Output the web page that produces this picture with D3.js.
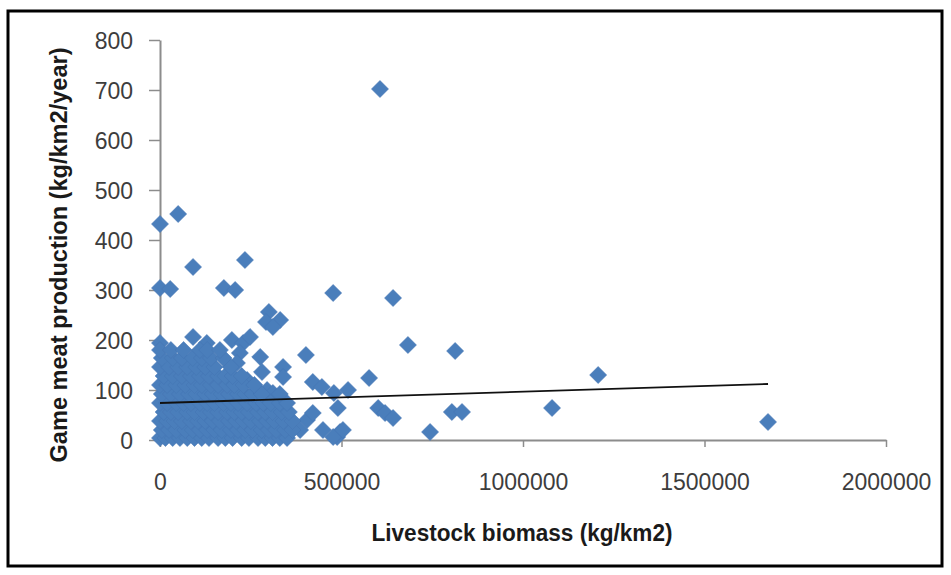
<!DOCTYPE html>
<html>
<head>
<meta charset="utf-8">
<script src="https://cdn.jsdelivr.net/npm/d3@7"></script>
<style>
  html, body { margin: 0; padding: 0; background: #ffffff; }
  svg { display: block; }
</style>
</head>
<body>
<svg id="chart" width="951" height="575"></svg>
<script>
// ---- data ----
const xTickValues = [0, 500000, 1000000, 1500000, 2000000];
const yTickValues = [0, 100, 200, 300, 400, 500, 600, 700, 800];
const xTitle = "Livestock biomass (kg/km2)";
const yTitle = "Game meat production (kg/km2/year)";

// scattered / isolated points
const livestockBiomassA = [
  606000, 0, 50000, 91000, 234000, 0, 28000, 176000, 207000, 477000,
  642000, 683000, 813000, 1207000, 402000, 576000, 518000, 479000, 490000, 601000,
  620000, 642000, 804000, 832000, 1080000, 1675000, 744000, 496000, 488000, 421000,
  446000, 405000, 421000, 449000, 477000, 504000, 386000, 300000, 331000, 292000,
  311000, 0, 91000, 129000, 198000, 229000, 248000, 276000, 339000, 281000,
  339000, 220000, 212000, 240000, 295000, 311000
];
const gameMeatProductionA = [
  702, 432, 452, 346, 360, 304, 302, 304, 300, 294,
  284, 190, 178, 130, 170, 124, 100, 94, 64, 64,
  54, 44, 56, 56, 64, 36, 16, 16, 6, 116,
  106, 40, 54, 20, 6, 20, 20, 256, 240, 236,
  226, 194, 206, 194, 200, 194, 206, 166, 146, 136,
  126, 174, 154, 120, 100, 94
];

// dense cluster near the origin, row by row (biomass in thousands, production value)
const clusterRowProduction = [4, 20, 38, 56, 74, 92, 110, 128, 146, 164, 180];
const clusterRowBiomassK = [
  [0,15,35,55,75,95,115,135,160,180,200,225,245,270,290,310,330,350],
  [5,25,45,70,90,110,130,150,170,195,215,235,255,280,300,320,345,365],
  [0,20,40,60,85,105,125,145,165,190,210,230,250,275,295,315,340,365],
  [10,30,50,75,95,120,140,160,185,205,225,245,270,290,310,335,355],
  [0,20,45,65,85,110,130,150,175,195,215,240,265,285,305,330,350],
  [5,30,55,80,100,125,145,170,190,215,235,255,280,330],
  [0,20,45,70,95,115,140,160,185,205,230,260],
  [10,35,60,85,110,135,160,180,200,225],
  [0,25,50,75,100,125,150,195],
  [5,35,60,90,115,140,175],
  [0,30,65,110,130,165]
];

// linear trendline end points (as drawn in the reference)
const trendBiomass = [0, 1675000];
const trendProduction = [74, 112];

// ---- build point table ----
const points = [];
livestockBiomassA.forEach((x, i) => points.push({ x: x, y: gameMeatProductionA[i] }));
clusterRowBiomassK.forEach((row, r) => {
  row.forEach(k => points.push({ x: k * 1000, y: clusterRowProduction[r] }));
});

// ---- drawing ----
const svg = d3.select("#chart");
const x = d3.scaleLinear().domain([0, 2000000]).range([160, 886]);
const y = d3.scaleLinear().domain([0, 800]).range([440, 40]);

const axisColor = "#8c8c8c";
const labelColor = "#3d3d3d";
const font = "'Liberation Sans', Arial, sans-serif";

// outer frame
svg.append("rect")
  .attr("x", 8).attr("y", 11).attr("width", 934).attr("height", 555)
  .attr("fill", "none").attr("stroke", "#000").attr("stroke-width", 3);

// y axis
const gy = svg.append("g").attr("transform", `translate(${x(0)},0)`)
  .call(d3.axisLeft(y).tickValues(yTickValues).tickSize(11).tickSizeOuter(0).tickPadding(16));
gy.select(".domain").attr("stroke", axisColor).attr("stroke-width", 2);
gy.selectAll(".tick line").attr("stroke", axisColor).attr("stroke-width", 1.5);
gy.selectAll(".tick text")
  .attr("fill", labelColor).style("font-family", font).style("font-size", "23px")
  .attr("dy", "0.36em");

// x axis
const gx = svg.append("g").attr("transform", `translate(0,${y(0)})`)
  .call(d3.axisBottom(x).tickValues(xTickValues).tickSize(7).tickSizeOuter(0)
    .tickFormat(d3.format("d")));
gx.select(".domain").attr("stroke", axisColor).attr("stroke-width", 2);
gx.selectAll(".tick line").attr("stroke", axisColor).attr("stroke-width", 1.5);
gx.selectAll(".tick text")
  .attr("fill", labelColor).style("font-family", font).style("font-size", "23px")
  .attr("y", 50).attr("dy", 0);

// points (Excel-style diamonds)
const diamond = "M0,-8.5L8.5,0L0,8.5L-8.5,0Z";
svg.append("g").selectAll("path").data(points).join("path")
  .attr("d", diamond)
  .attr("transform", d => `translate(${x(d.x)},${y(d.y)})`)
  .attr("fill", "#4A7EBB")
  .attr("stroke", "#4576B3").attr("stroke-width", 0.6);

// trendline
svg.append("path")
  .datum(trendBiomass.map((b, i) => [b, trendProduction[i]]))
  .attr("d", d3.line().x(d => x(d[0])).y(d => y(d[1])))
  .attr("fill", "none").attr("stroke", "#111").attr("stroke-width", 1.8);

// axis titles
svg.append("text")
  .attr("x", 522).attr("y", 541)
  .attr("text-anchor", "middle")
  .attr("textLength", 301).attr("lengthAdjust", "spacingAndGlyphs")
  .style("font-family", font).style("font-size", "23px").style("font-weight", "bold")
  .attr("fill", "#1a1a1a")
  .text(xTitle);

svg.append("text")
  .attr("transform", "translate(67,255) rotate(-90)")
  .attr("text-anchor", "middle")
  .attr("textLength", 415).attr("lengthAdjust", "spacingAndGlyphs")
  .style("font-family", font).style("font-size", "23px").style("font-weight", "bold")
  .attr("fill", "#1a1a1a")
  .text(yTitle);
</script>
</body>
</html>
